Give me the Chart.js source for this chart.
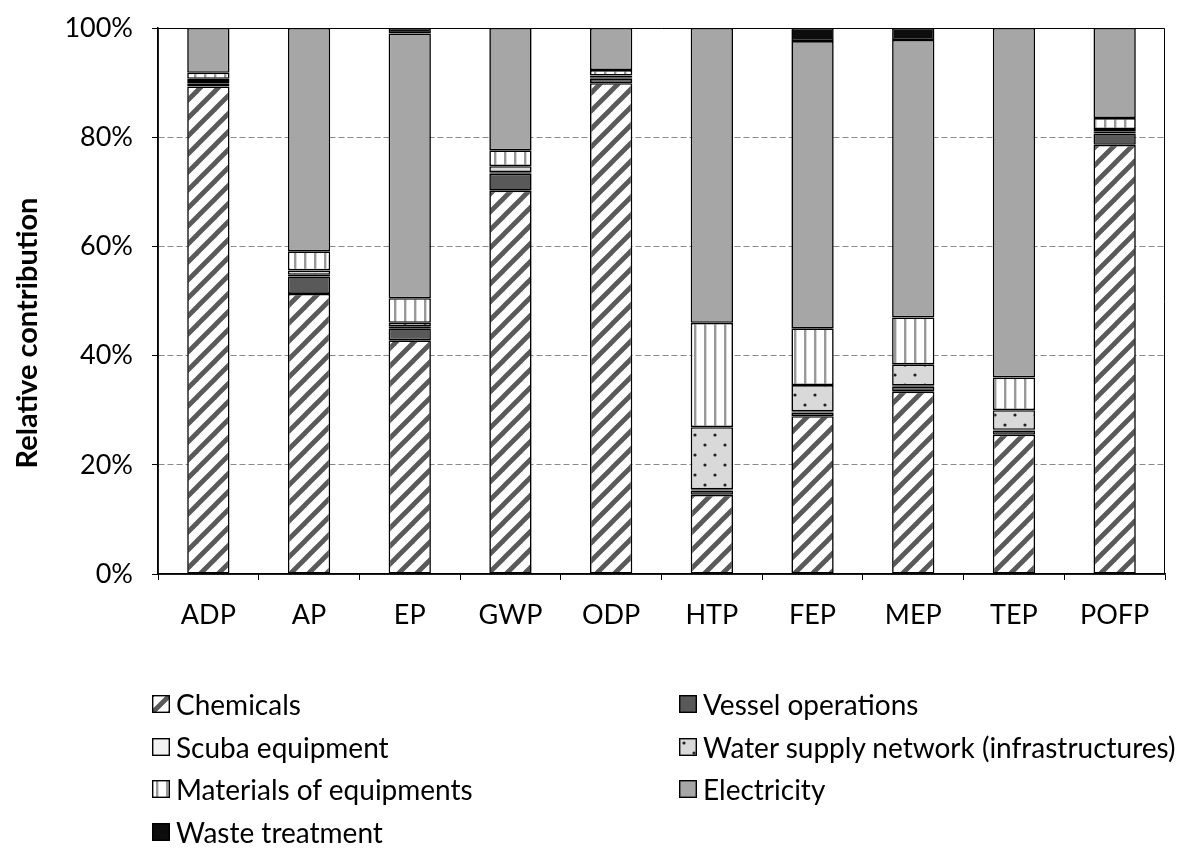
<!DOCTYPE html>
<html><head><meta charset="utf-8">
<script src="https://cdn.jsdelivr.net/npm/chart.js@4.4.0/dist/chart.umd.min.js"></script>
<style>
html,body{margin:0;padding:0;background:#fff;}
#wrap{position:relative;width:1185px;height:852px;overflow:hidden;}
#c{position:absolute;left:0;top:0;}
.item{position:absolute;display:flex;align-items:center;white-space:nowrap;font-family:Lato,"Open Sans",sans-serif;font-size:28px;color:#000;line-height:1;}
.item canvas{margin-right:6px;}
</style></head>
<body><div id="wrap"><canvas id="c" width="1185" height="852"></canvas><div id="legend"></div></div>
<script>
const categories = ['ADP','AP','EP','GWP','ODP','HTP','FEP','MEP','TEP','POFP'];
const chemicals   = [89.3, 51.3, 42.8, 70.2, 89.9, 14.5, 28.9, 33.4, 25.5, 78.6];
const vesselOps   = [0.6, 3.2, 2.2, 3.1, 0.8, 0.8, 0.7, 0.9, 0.8, 2.1];
const scuba       = [0.4, 0.3, 0.3, 0.3, 0.3, 0.2, 0.2, 0.2, 0.1, 0.4];
const waterSupply = [0.4, 0.8, 0.7, 1.1, 0.3, 11.4, 4.8, 3.9, 3.6, 0.4];
const materials   = [1.1, 3.5, 4.5, 2.9, 1.0, 19.1, 10.4, 8.6, 6.0, 2.0];
const electricity = [8.2, 40.9, 48.5, 22.4, 7.7, 54.0, 52.6, 50.8, 64.0, 16.5];
const waste       = [0, 0, 1.0, 0, 0, 0, 2.4, 2.2, 0, 0];
const seriesNames = ['Chemicals','Vessel operations','Scuba equipment','Water supply network (infrastructures)','Materials of equipments','Electricity','Waste treatment'];
const yTicks = [0,20,40,60,80,100];
const yTitle = 'Relative contribution';

function tile(w,h,draw){const t=document.createElement('canvas');t.width=w;t.height=h;const g=t.getContext('2d');draw(g,w,h);return t;}
const ctxMain=document.getElementById('c').getContext('2d');
function mkPattern(ctx,kind){
  let t;
  if(kind==='diag'){
    t=tile(18,18,(g,w,h)=>{g.fillStyle='#fff';g.fillRect(0,0,w,h);g.strokeStyle='#5a5a5a';g.lineWidth=4.8;g.lineCap='square';
      for(const o of [-w,0,w]){g.beginPath();g.moveTo(o,h);g.lineTo(o+w,0);g.stroke();}});
  } else if(kind==='vert'){
    t=tile(10,10,(g,w,h)=>{g.fillStyle='#fff';g.fillRect(0,0,w,h);g.fillStyle='#999';g.fillRect(4,0,2.4,h);});
  } else if(kind==='dots'){
    t=tile(20,20,(g,w,h)=>{g.fillStyle='#d9d9d9';g.fillRect(0,0,w,h);g.fillStyle='#222';
      g.beginPath();g.arc(5,5,1.6,0,Math.PI*2);g.fill();g.beginPath();g.arc(15,15,1.6,0,Math.PI*2);g.fill();});
  }
  return ctx.createPattern(t,'repeat');
}
const fills=[mkPattern(ctxMain,'diag'),'#595959','#f2f2f2',mkPattern(ctxMain,'dots'),mkPattern(ctxMain,'vert'),'#a6a6a6','#0d0d0d'];
const seriesData=[chemicals,vesselOps,scuba,waterSupply,materials,electricity,waste];

const FONT='Lato, "Open Sans", sans-serif';
const framePlugin={id:'frame',afterDraw(chart){const {ctx,chartArea:a}=chart;ctx.save();ctx.strokeStyle='#000';ctx.lineWidth=1;
  ctx.beginPath();ctx.moveTo(a.left,a.top+0.5);ctx.lineTo(a.right-0.5,a.top+0.5);ctx.lineTo(a.right-0.5,a.bottom);ctx.stroke();
  ctx.lineWidth=1.5;ctx.beginPath();ctx.moveTo(a.left,a.top);ctx.lineTo(a.left,a.bottom);ctx.lineTo(a.right,a.bottom);ctx.stroke();
  ctx.translate(28,333);ctx.rotate(-Math.PI/2);ctx.fillStyle='#000';ctx.font='bold 29px '+FONT;ctx.textAlign='center';ctx.textBaseline='middle';
  ctx.fillText(yTitle,0,0);
  ctx.restore();}};

new Chart(ctxMain,{
  type:'bar',
  data:{labels:categories,datasets:seriesData.map((d,i)=>({label:seriesNames[i],data:d,backgroundColor:fills[i],borderColor:'#000',borderWidth:1.6,borderSkipped:false,categoryPercentage:1,barPercentage:0.42}))},
  options:{responsive:false,animation:false,devicePixelRatio:1,
    layout:{padding:{top:28,right:20,left:0,bottom:0}},
    plugins:{legend:{display:false},tooltip:{enabled:false}},
    scales:{
      x:{stacked:true,afterFit(s){s.height=278;s.paddingLeft=0;s.paddingRight=0;},
        grid:{display:true,drawOnChartArea:false,offset:true,tickLength:6,tickColor:'#000',color:'#000'},
        border:{display:true,color:'#000',width:1.5},
        ticks:{color:'#000',font:{family:FONT,size:27},padding:19}},
      y:{stacked:true,min:0,max:100,afterFit(s){s.width=158;s.paddingTop=0;s.paddingBottom=0;},
        afterBuildTicks(s){s.ticks=yTicks.map(v=>({value:v}));},
        grid:{color:(c)=>c.tick&&c.tick.value===0?'rgba(0,0,0,0)':'#8a8a8a',lineWidth:1,tickLength:6,tickColor:'#000'},
        border:{display:true,color:'#000',width:1.5,dash:[6,3]},
        ticks:{color:'#000',font:{family:FONT,size:27},padding:19,callback:v=>v+'%'},
        title:{display:false}}
    }},
  plugins:[framePlugin]
});

const legendPos=[[152,705],[679,705],[152,748],[679,748],[152,790],[679,790],[152,833]];
const lg=document.getElementById('legend');
seriesNames.forEach((name,si)=>{
  const it=document.createElement('div');it.className='item';
  const cv=document.createElement('canvas');cv.width=18;cv.height=18;
  const g=cv.getContext('2d');const f=si===0?mkPattern(g,'diag'):si===3?mkPattern(g,'dots'):si===4?mkPattern(g,'vert'):fills[si];
  g.fillStyle=f;g.fillRect(0,0,18,18);g.strokeStyle='#000';g.lineWidth=1.4;g.strokeRect(0.7,0.7,16.6,16.6);
  it.appendChild(cv);const sp=document.createElement('span');sp.textContent=name;it.appendChild(sp);
  it.style.left=legendPos[si][0]+'px';it.style.top=(legendPos[si][1]-15)+'px';
  lg.appendChild(it);
});
</script></body></html>
